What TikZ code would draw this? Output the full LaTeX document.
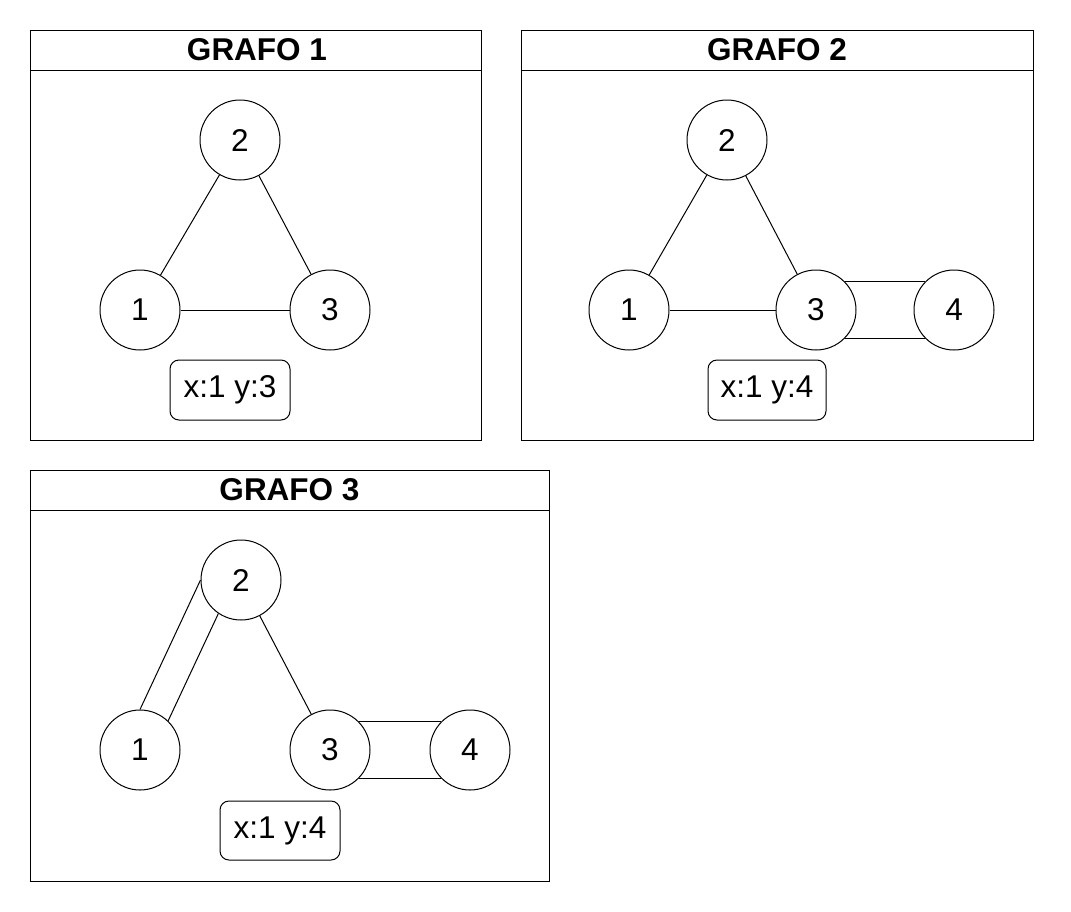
\documentclass[tikz,border=0pt]{standalone}
\usepackage{fontspec}
\setmainfont{Liberation Sans}
\begin{document}
\begin{tikzpicture}[x=1pt,y=-1pt,line width=1pt,
  vtx/.style={draw, circle, minimum size=80pt, inner sep=0pt, font=\fontsize{31.5}{36}\selectfont},
  lbl/.style={draw, rounded corners=9pt, minimum width=120pt, minimum height=60pt, inner sep=0pt, font=\fontsize{31.5}{36}\selectfont},
  panel/.style={draw, anchor=north west, inner sep=0pt},
  ttl/.style={font=\bfseries\fontsize{31.5}{36}\selectfont, inner sep=0pt}]
\useasboundingbox (0,0) rectangle (1071,911);

% ---------- GRAFO 1 ----------
\node[panel, minimum width=451pt, minimum height=410pt] (p1) at (30,30) {};
\draw (30,70) -- (481,70);
\node[ttl] (t1) at (257,50) {GRAFO 1};
\node[vtx] (a2) at (240,140) {2};
\node[vtx] (a1) at (140,310) {1};
\node[vtx] (a3) at (330,310) {3};
\draw (a2) -- (a1);
\draw (a2) -- (a3);
\draw (a1) -- (a3);
\node[lbl] (l1) at (230,390) {x:1 y:3};

% ---------- GRAFO 2 ----------
\node[panel, minimum width=512pt, minimum height=410pt] (p2) at (521,30) {};
\draw (521,70) -- (1033,70);
\node[ttl] (t2) at (777,50) {GRAFO 2};
\node[vtx] (b2) at (727,140) {2};
\node[vtx] (b1) at (629,310) {1};
\node[vtx] (b3) at (816,310) {3};
\node[vtx] (b4) at (954,310) {4};
\draw (b2) -- (b1);
\draw (b2) -- (b3);
\draw (b1) -- (b3);
\draw (b3.45) -- (b4.135);
\draw (b3.-45) -- (b4.-135);
\node[lbl, minimum width=118pt] (l2) at (767,390) {x:1 y:4};

% ---------- GRAFO 3 ----------
\node[panel, minimum width=519pt, minimum height=411pt] (p3) at (30,470) {};
\draw (30,510) -- (549,510);
\node[ttl] (t3) at (289.5,490) {GRAFO 3};
\node[vtx] (c2) at (241,580) {2};
\node[vtx] (c1) at (140,750) {1};
\node[vtx] (c3) at (330,750) {3};
\node[vtx] (c4) at (470,750) {4};
\draw (c1.north) -- (c2.west);
\draw (c1.46) -- (c2.236);
\draw (c2) -- (c3);
\draw (c3.45) -- (c4.135);
\draw (c3.-45) -- (c4.-135);
\node[lbl, minimum height=59pt] (l3) at (280,830.5) {x:1 y:4};
\end{tikzpicture}
\end{document}
